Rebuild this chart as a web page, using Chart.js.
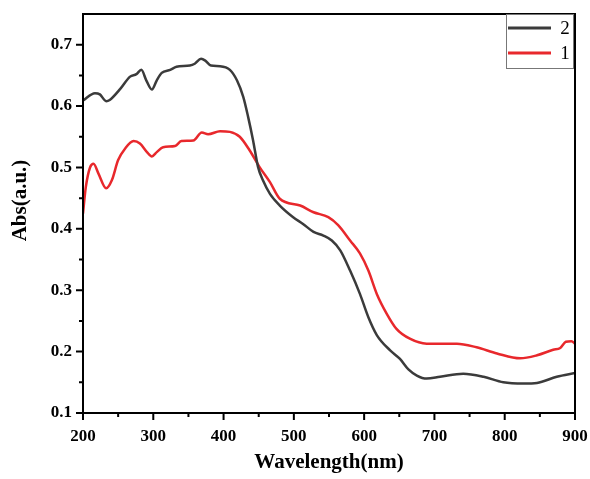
<!DOCTYPE html>
<html>
<head>
<meta charset="utf-8">
<script src="https://cdn.jsdelivr.net/npm/chart.js@4.4.0/dist/chart.umd.min.js"></script>
<style>
  body { margin: 0; background: #fff; }
  #wrap { width: 590px; height: 479px; }
</style>
</head>
<body>
<div id="wrap"><canvas id="uv-chart"></canvas></div>
<script>
const wl2 = [200, 217, 224, 233, 238, 253, 267, 276, 283, 290, 298, 305, 312, 324, 333, 352, 359, 368, 374, 382, 395, 409, 419, 428, 435, 442, 449, 456, 466, 480, 499, 513, 528, 542, 554, 566, 580, 594, 606, 618, 637, 651, 663, 675, 689, 708, 741, 770, 798, 827, 846, 874, 900]
const abs2 = [0.609, 0.621, 0.619, 0.608, 0.610, 0.628, 0.648, 0.652, 0.659, 0.642, 0.627, 0.642, 0.654, 0.659, 0.664, 0.666, 0.669, 0.677, 0.674, 0.666, 0.665, 0.659, 0.642, 0.615, 0.582, 0.544, 0.501, 0.479, 0.457, 0.438, 0.419, 0.408, 0.395, 0.389, 0.381, 0.365, 0.332, 0.294, 0.256, 0.227, 0.202, 0.188, 0.171, 0.161, 0.156, 0.159, 0.164, 0.159, 0.150, 0.148, 0.149, 0.159, 0.165]

const wl1 = [200, 204, 210, 215, 222, 233, 241, 250, 260, 272, 281, 291, 298, 305, 314, 331, 340, 357, 369, 378, 395, 409, 423, 437, 451, 466, 480, 509, 528, 549, 563, 580, 594, 606, 618, 632, 646, 665, 689, 708, 732, 760, 789, 822, 846, 869, 879, 887, 895, 900]
const abs1 = [0.425, 0.468, 0.500, 0.506, 0.490, 0.466, 0.479, 0.512, 0.531, 0.543, 0.539, 0.525, 0.518, 0.525, 0.533, 0.535, 0.543, 0.544, 0.557, 0.554, 0.559, 0.558, 0.550, 0.528, 0.501, 0.476, 0.449, 0.438, 0.427, 0.419, 0.406, 0.381, 0.360, 0.332, 0.294, 0.262, 0.237, 0.221, 0.213, 0.213, 0.213, 0.207, 0.197, 0.189, 0.194, 0.203, 0.206, 0.216, 0.217, 0.213]

const xTicks = [200, 300, 400, 500, 600, 700, 800, 900]
const yTicks = [0.1, 0.2, 0.3, 0.4, 0.5, 0.6, 0.7]
const seriesNames = ['2', '1']
const yTitle = 'Abs(a.u.)'

const BLACK_LINE = '#3b3b3b'
const RED_LINE = '#e8282c'
const FONT = "'Liberation Serif', 'Times New Roman', serif"

const toPoints = (xs, ys) => xs.map((x, i) => ({ x: x, y: ys[i] }))

// frame, major/minor ticks, y title and the boxed legend
const framePlugin = {
    id: 'frame',
    afterDraw(chart) {
        const ctx = chart.ctx
        const area = chart.chartArea
        const xs = chart.scales.x
        const ys = chart.scales.y
        ctx.save()
        ctx.strokeStyle = '#000'
        ctx.lineWidth = 2
        ctx.strokeRect(area.left, area.top, area.right - area.left, area.bottom - area.top)

        ctx.beginPath()
        for (let v = xs.min; v <= xs.max; v += 50) {
            const px = xs.getPixelForValue(v)
            const len = xTicks.includes(v) ? 7 : 4
            ctx.moveTo(px, area.bottom)
            ctx.lineTo(px, area.bottom + len)
        }
        for (let k = 2; k <= 14; k++) {
            const v = k * 0.05
            if (v > ys.max + 1e-9) break
            const py = ys.getPixelForValue(v)
            const len = k % 2 === 0 ? 7 : 4
            ctx.moveTo(area.left, py)
            ctx.lineTo(area.left - len, py)
        }
        ctx.stroke()

        // y title, a bit above the middle like the original
        ctx.save()
        ctx.translate(21, (area.top + area.bottom) / 2 - 13)
        ctx.rotate(-Math.PI / 2)
        ctx.font = 'bold 21px ' + FONT
        ctx.fillStyle = '#000'
        ctx.textAlign = 'center'
        ctx.textBaseline = 'middle'
        ctx.fillText(yTitle, 0, 0)
        ctx.restore()

        // legend box
        const boxW = 67, boxH = 54
        const bx = area.right - boxW - 2, by = area.top
        ctx.lineWidth = 1
        ctx.strokeStyle = '#777'
        ctx.strokeRect(bx + 0.5, by + 0.5, boxW, boxH)
        ctx.font = '19px ' + FONT
        ctx.textBaseline = 'middle'
        ctx.textAlign = 'center'
        chart.data.datasets.forEach((ds, i) => {
            const ly = by + 14 + i * 25
            ctx.strokeStyle = ds.borderColor
            ctx.lineWidth = 3
            ctx.beginPath()
            ctx.moveTo(bx + 2, ly)
            ctx.lineTo(bx + 45, ly)
            ctx.stroke()
            ctx.fillStyle = '#000'
            ctx.fillText(ds.label, bx + 59, ly + 1)
        })
        ctx.restore()
    }
}

Chart.defaults.font.family = FONT

new Chart(document.getElementById('uv-chart'), {
    type: 'line',
    data: {
        datasets: [{
            label: seriesNames[0],
            data: toPoints(wl2, abs2),
            borderColor: BLACK_LINE,
            borderWidth: 2.5,
            pointRadius: 0,
            tension: 0.4,
            cubicInterpolationMode: 'monotone'
        }, {
            label: seriesNames[1],
            data: toPoints(wl1, abs1),
            borderColor: RED_LINE,
            borderWidth: 2.5,
            pointRadius: 0,
            tension: 0.4,
            cubicInterpolationMode: 'monotone'
        }]
    },
    options: {
        responsive: true,
        maintainAspectRatio: false,
        animation: false,
        layout: { padding: { top: 14, right: 15, left: 0, bottom: 0 } },
        plugins: {
            legend: { display: false },
            tooltip: { enabled: false }
        },
        scales: {
            x: {
                type: 'linear',
                min: 200,
                max: 900,
                afterFit: s => {
                    s.height = 66
                    s.paddingLeft = 0
                    s.paddingRight = 0
                },
                afterBuildTicks: s => { s.ticks = xTicks.map(v => ({ value: v })) },
                grid: { display: false, drawTicks: false },
                border: { display: false },
                ticks: {
                    color: '#000',
                    padding: 13,
                    maxRotation: 0,
                    font: { size: 17, weight: 'bold' }
                },
                title: {
                    display: true,
                    text: 'Wavelength(nm)',
                    color: '#000',
                    padding: { top: 6 },
                    font: { size: 21, weight: 'bold' }
                }
            },
            y: {
                min: 0.1,
                max: 0.75,
                afterFit: s => {
                    s.width = 83
                    s.paddingTop = 0
                    s.paddingBottom = 0
                },
                afterBuildTicks: s => { s.ticks = yTicks.map(v => ({ value: v })) },
                grid: { display: false, drawTicks: false },
                border: { display: false },
                ticks: {
                    color: '#000',
                    padding: 11,
                    font: { size: 17, weight: 'bold' },
                    callback: v => v.toFixed(1)
                },
                title: { display: false }
            }
        }
    },
    plugins: [framePlugin]
})
</script>
</body>
</html>
